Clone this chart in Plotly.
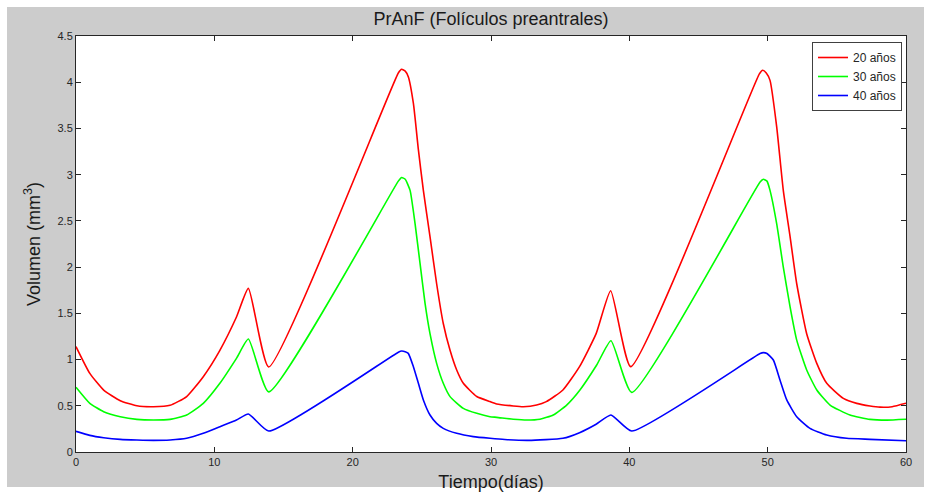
import plotly.graph_objects as go

# ---- data ----
t_20 = [0, 1.0, 2.0, 3.2, 4.4, 5.6, 6.8, 8.0, 9.2, 10.4, 11.6, 12.46, 13.93,
        23.3, 23.54, 23.8, 24.02, 24.39, 24.75, 25.11, 25.59, 26.07, 26.55, 27.04,
        27.52, 28.0, 28.97, 29.93, 30.41, 31.61, 32.34, 33.3, 34.0, 35.2, 36.4,
        37.6, 38.65, 40.1, 49.4, 49.64, 49.9, 50.17, 50.65, 51.13, 51.62, 52.1,
        52.82, 53.55, 54.27, 55.47, 56.44, 57.4, 58.12, 59.0, 60.0]
v_20 = [1.14, 0.85, 0.67, 0.555, 0.50, 0.49, 0.505, 0.60, 0.815, 1.10, 1.46, 1.77, 0.92,
        4.10, 4.14, 4.12, 4.06, 3.77, 3.27, 2.83, 2.33, 1.82, 1.39, 1.10,
        0.887, 0.743, 0.60, 0.545, 0.52, 0.498, 0.49, 0.508, 0.545, 0.671, 0.923,
        1.28, 1.745, 0.923, 4.09, 4.13, 4.10, 4.02, 3.52, 2.83, 2.33, 1.82,
        1.28, 0.959, 0.743, 0.58, 0.526, 0.498, 0.485, 0.49, 0.527]

t_30 = [0, 1.0, 2.0, 3.2, 4.4, 5.6, 6.8, 8.0, 9.2, 10.4, 11.6, 12.46, 13.93,
        23.3, 23.54, 23.8, 24.15, 24.51, 24.87, 25.23, 25.59, 26.07, 26.55, 27.04,
        28.0, 28.97, 29.93, 30.41, 31.61, 32.58, 33.54, 34.5, 35.47, 36.43, 37.64,
        38.67, 40.17, 49.45, 49.69, 49.95, 50.17, 50.65, 51.13, 51.62, 52.1, 52.82,
        53.55, 54.51, 55.95, 57.4, 58.6, 60.0]
v_30 = [0.70, 0.526, 0.436, 0.382, 0.353, 0.346, 0.353, 0.40, 0.526, 0.743, 1.013, 1.222, 0.65,
        2.93, 2.97, 2.95, 2.83, 2.47, 2.04, 1.61, 1.28, 0.959, 0.743, 0.599,
        0.472, 0.418, 0.382, 0.375, 0.355, 0.346, 0.355, 0.40, 0.508, 0.671, 0.941,
        1.204, 0.645, 2.92, 2.95, 2.93, 2.83, 2.47, 2.0, 1.57, 1.21, 0.887,
        0.671, 0.508, 0.40, 0.353, 0.345, 0.354]

t_40 = [0, 1.0, 2.0, 3.2, 4.4, 5.6, 6.8, 8.0, 9.2, 10.4, 11.6, 12.46, 13.93,
        23.3, 23.54, 23.8, 24.02, 24.39, 24.75, 25.11, 25.59, 26.07, 26.55, 27.52,
        28.72, 29.93, 31.0, 32.7, 35.2, 36.4, 37.6, 38.67, 40.17, 49.45, 49.69,
        49.95, 50.41, 50.89, 51.38, 52.1, 53.06, 54.27, 55.71, 57.4, 60.0]
v_40 = [0.224, 0.18, 0.155, 0.137, 0.13, 0.126, 0.13, 0.148, 0.202, 0.274, 0.346, 0.411, 0.227,
        1.08, 1.093, 1.085, 1.067, 0.923, 0.743, 0.563, 0.40, 0.31, 0.256, 0.202,
        0.166, 0.148, 0.135, 0.126, 0.148, 0.209, 0.30, 0.40, 0.227, 1.065, 1.075,
        1.065, 0.995, 0.779, 0.563, 0.382, 0.256, 0.184, 0.148, 0.137, 0.122]

labels = ["20 años", "30 años", "40 años"]
colors = ["#ff0000", "#00ff00", "#0000ff"]

x_ticks = [0, 10, 20, 30, 40, 50, 60]
y_ticks = [0, 0.5, 1, 1.5, 2, 2.5, 3, 3.5, 4, 4.5]
y_tick_text = ["0", "0.5", "1", "1.5", "2", "2.5", "3", "3.5", "4", "4.5"]

fig = go.Figure()
for tt, vv, name, col in zip([t_20, t_30, t_40], [v_20, v_30, v_40], labels, colors):
    fig.add_trace(go.Scatter(x=tt, y=vv, mode="lines", name=name,
                             line=dict(color=col, width=1.6, shape="spline", smoothing=0.5)))

W, H = 931, 492
L, R, T, B = 76, 25, 36, 40
pw, ph = W - L - R, H - T - B

def px_to_paper_x(px):
    return (px - L) / pw

def px_to_paper_y(py):
    return (H - B - py) / ph

# gray MATLAB-style figure background, then white axes area on top of it
fig.add_shape(type="rect", xref="paper", yref="paper", layer="below",
              x0=px_to_paper_x(7), x1=px_to_paper_x(924),
              y0=px_to_paper_y(487), y1=px_to_paper_y(7),
              fillcolor="#cccccc", line=dict(width=0))
fig.add_shape(type="rect", xref="paper", yref="paper", layer="below",
              x0=0, x1=1, y0=0, y1=1,
              fillcolor="white", line=dict(width=0))

axis_common = dict(showgrid=False, zeroline=False, showline=True, mirror="ticks",
                   linecolor="#262626", linewidth=1, ticks="inside", ticklen=5,
                   tickcolor="#262626", tickwidth=1, automargin=False,
                   tickfont=dict(family="Liberation Sans, Arial", size=11, color="#262626"))

fig.update_xaxes(range=[0, 60], tickvals=x_ticks, ticktext=[str(v) for v in x_ticks],
                 title=dict(text="Tiempo(días)", standoff=8,
                            font=dict(family="Liberation Sans, Arial", size=18, color="#1a1a1a")),
                 **axis_common)
fig.update_yaxes(range=[0, 4.5], tickvals=y_ticks, ticktext=y_tick_text,
                 title=dict(text="Volumen (mm<sup>3</sup>)", standoff=12,
                            font=dict(family="Liberation Sans, Arial", size=18, color="#1a1a1a")),
                 **axis_common)

fig.update_layout(
    width=W, height=H,
    margin=dict(l=L, r=R, t=T, b=B, autoexpand=False),
    paper_bgcolor="white", plot_bgcolor="white",
    title=dict(text="PrAnF (Folículos preantrales)", x=px_to_paper_x(491), xref="paper",
               xanchor="center", y=1 - 19 / H, yanchor="middle",
               font=dict(family="Liberation Sans, Arial", size=18, color="#1a1a1a")),
    legend=dict(x=px_to_paper_x(902), y=px_to_paper_y(42), xanchor="right", yanchor="top",
                bgcolor="white", bordercolor="#404040", borderwidth=1,
                font=dict(family="Liberation Sans, Arial", size=12, color="#262626"),
                itemwidth=30, tracegroupgap=0),
    showlegend=True,
)

fig.write_html("out.html")
